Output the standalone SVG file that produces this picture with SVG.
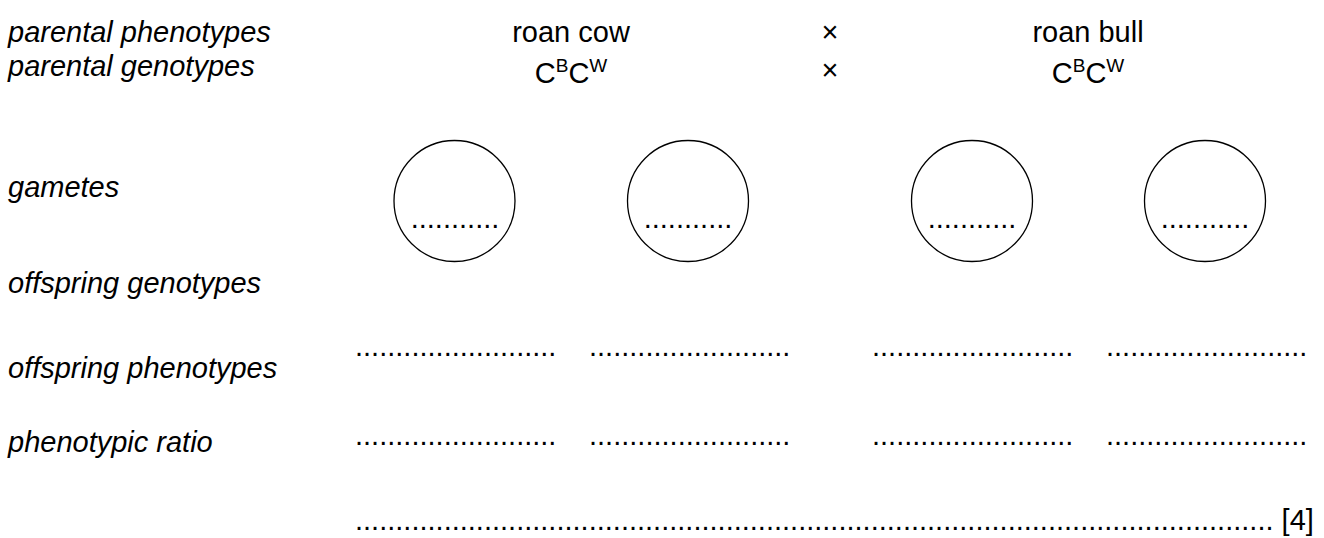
<svg xmlns="http://www.w3.org/2000/svg" width="1324" height="538" viewBox="0 0 1324 538">
<style>
text{font-family:"Liberation Sans",Arial,Helvetica,sans-serif;font-size:29px;fill:#000}
.lab{font-style:italic}
.mid{text-anchor:middle}
.sup{font-size:19px}
.gam{fill:none;stroke:#000;stroke-width:1.3}
</style>
<rect width="1324" height="538" fill="#fff"/>
<g id="labels">
<text class="lab" x="8" y="42">parental phenotypes</text>
<text class="lab" x="8" y="76">parental genotypes</text>
<text class="lab" x="8" y="197">gametes</text>
<text class="lab" x="8" y="293">offspring genotypes</text>
<text class="lab" x="8" y="378">offspring phenotypes</text>
<text class="lab" x="8" y="452">phenotypic ratio</text>
</g>
<g id="parent-cow">
<text class="mid" x="571" y="42">roan cow</text>
<text class="mid" x="571" y="83">C<tspan class="sup" dy="-11">B</tspan><tspan dy="11">C</tspan><tspan class="sup" dy="-11">W</tspan></text>
</g>
<g id="cross">
<text class="mid" x="830" y="42">×</text>
<text class="mid" x="830" y="80">×</text>
</g>
<g id="parent-bull">
<text class="mid" x="1088" y="42">roan bull</text>
<text class="mid" x="1088" y="83">C<tspan class="sup" dy="-11">B</tspan><tspan dy="11">C</tspan><tspan class="sup" dy="-11">W</tspan></text>
</g>
<g id="gamete1"><circle class="gam" cx="454.5" cy="201" r="60.5"/><text class="mid" x="455" y="228">...........</text></g>
<g id="gamete2"><circle class="gam" cx="688" cy="201" r="60.5"/><text class="mid" x="688" y="228">...........</text></g>
<g id="gamete3"><circle class="gam" cx="972" cy="201" r="60.5"/><text class="mid" x="972" y="228">...........</text></g>
<g id="gamete4"><circle class="gam" cx="1205" cy="201" r="60.5"/><text class="mid" x="1205" y="228">...........</text></g>
<g id="offspring-genotypes">
<text x="355" y="356">.........................</text>
<text x="589" y="356">.........................</text>
<text x="872" y="356">.........................</text>
<text x="1106" y="356">.........................</text>
</g>
<g id="offspring-phenotypes">
<text x="355" y="445">.........................</text>
<text x="589" y="445">.........................</text>
<text x="872" y="445">.........................</text>
<text x="1106" y="445">.........................</text>
</g>
<g id="ratio">
<text x="355" y="530">.................................................................................................................. [4]</text>
</g>
<g id="connectors"/>
</svg>
